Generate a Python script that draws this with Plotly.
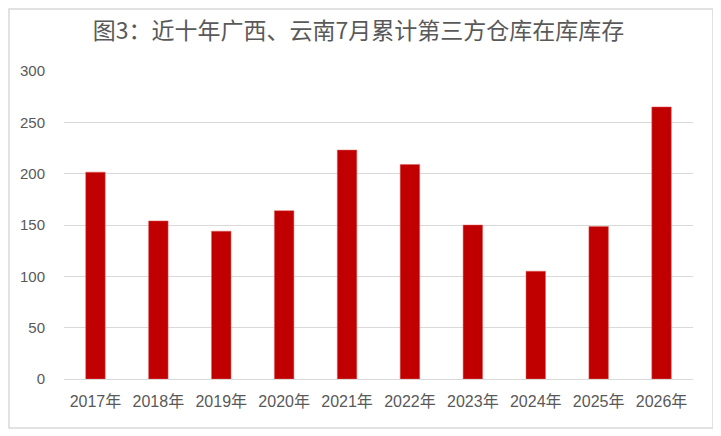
import plotly.graph_objects as go

# 数据
years = ['2017年', '2018年', '2019年', '2020年', '2021年',
         '2022年', '2023年', '2024年', '2025年', '2026年']
stock = [201.5, 154, 144, 164, 223, 209, 150, 105, 148.5, 265]

title_text = '图3：近十年广西、云南7月累计第三方仓库在库库存'
y_ticks = [0, 50, 100, 150, 200, 250, 300]

# page has 8px body margin, so figure is drawn a bit smaller
W, H = 713, 428
ml, mr, mt, mb = 56, 28, 63, 57
pw, ph = W - ml - mr, H - mt - mb

def px_x(x):
    return (x - ml) / pw

def px_y(y):
    return (H - mb - y) / ph

fig = go.Figure(go.Bar(
    x=years, y=stock,
    marker=dict(color='#c00000', line=dict(color='#e06060', width=0.5)),
    width=0.31,
))

fig.update_layout(
    width=W, height=H,
    margin=dict(l=ml, r=mr, t=mt, b=mb),
    paper_bgcolor='white', plot_bgcolor='white',
    showlegend=False,
    font=dict(family='Liberation Sans, Noto Sans CJK SC', color='#595959', size=15),
    title=dict(text=title_text, x=350.5 / W, xanchor='center', y=1 - 22.5 / H, yanchor='middle',
               font=dict(family='Noto Sans CJK SC', size=23, color='#595959')),
    xaxis=dict(showline=False, ticks='', ticklabelstandoff=11,
               tickfont=dict(size=16, family='Liberation Sans, Noto Sans CJK SC')),
    yaxis=dict(range=[0, 300], tickvals=y_ticks, gridcolor='#d9d9d9', gridwidth=1,
               zeroline=True, zerolinecolor='#d9d9d9', zerolinewidth=1,
               ticks='', ticklabelstandoff=18, tickfont=dict(size=15)),
    shapes=[dict(type='rect', xref='paper', yref='paper',
                 x0=px_x(1), x1=px_x(705), y0=px_y(420), y1=px_y(1),
                 line=dict(color='#d9d9d9', width=1.5), fillcolor='rgba(0,0,0,0)', layer='below')],
)

fig.write_html('out.html')
